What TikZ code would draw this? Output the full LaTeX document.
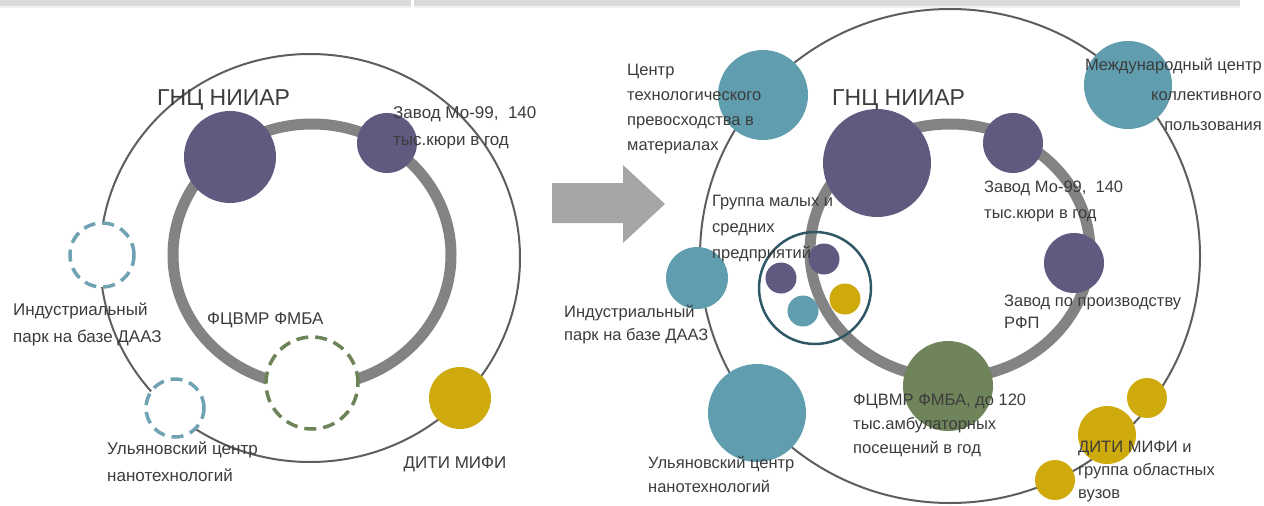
\documentclass[tikz,border=0pt]{standalone}
\usepackage{fontspec}
\setmainfont{Liberation Sans}

\definecolor{ballpurple}{HTML}{5F5A80}
\definecolor{ballteal}{HTML}{609DAE}
\definecolor{ballyellow}{HTML}{CFAA0C}
\definecolor{ballgreen}{HTML}{6F845A}
\definecolor{dashteal}{HTML}{6FA2B2}
\definecolor{dashgreen}{HTML}{6B8357}
\definecolor{groupline}{HTML}{2F5866}
\definecolor{orbitgray}{HTML}{5E5E5E}
\definecolor{ringgray}{HTML}{838383}
\definecolor{arrowgray}{HTML}{A6A6A6}
\definecolor{bargray}{HTML}{DADADA}
\definecolor{txtgray}{HTML}{3C3C3C}

\begin{document}
\begin{tikzpicture}[x=1pt, y=-1pt,
    ball/.style={circle, inner sep=0pt, minimum size=#1},
    purpleball/.style={ball=#1, fill=ballpurple},
    tealball/.style={ball=#1, fill=ballteal},
    yellowball/.style={ball=#1, fill=ballyellow},
    greenball/.style={ball=#1, fill=ballgreen},
    dashball/.style={ball=#1, fill=white, draw, line width=3.5pt, dash pattern=on 12pt off 7pt},
    orbit/.style={draw=orbitgray, line width=2pt},
    ring/.style={draw=ringgray, line width=11pt},
    lbl/.style={inner sep=0pt, anchor=base west, align=left, text=txtgray, font=\fontsize{17}{27}\selectfont},
    lblr/.style={lbl, font=\fontsize{16.5}{#1}\selectfont},
    lblr/.default=25,
    headlbl/.style={inner sep=0pt, anchor=base west, text=txtgray, font=\fontsize{23}{27}\selectfont}]
    \useasboundingbox (0,0) rectangle (1264,506);

    % strip along the top
    \fill[bargray] (0,0) rectangle (1240,5.5);
    \fill[black!6] (0,5.5) rectangle (1240,8);
    \fill[white] (411,0) rectangle (413.5,8);

    % left: today
    \draw[orbit] (310,258) ellipse [x radius=210pt, y radius=204pt];
    \draw[ring] (312,255) ellipse [x radius=139pt, y radius=131pt];
    \node[purpleball=92] (gnc) at (230,157) {};
    \node[purpleball=60] (mo) at (387,143) {};
    \node[dashball=64, draw=dashteal] (ip) at (102,255) {};
    \node[dashball=58, draw=dashteal] (unc) at (175,408) {};
    \node[dashball=92, draw=dashgreen] (fc) at (312,383) {};
    \node[yellowball=62] (diti) at (460,398) {};

    % labels: base = baseline of the last line
    \node[headlbl] (gnclbl) at (157,105) {ГНЦ НИИАР};
    \node[lbl] (molbl) at (393,145) {Завод Мо-99,\ \ 140\\тыс.кюри в год};
    \node[lbl] (fclbl) at (207,324) {ФЦВМР ФМБА};
    \node[lbl] (iplbl) at (13,342) {Индустриальный\\парк на базе ДААЗ};
    \node[lbl] (unclbl) at (107,481) {Ульяновский центр\\нанотехнологий};
    \node[lbl, anchor=base] (ditilbl) at (455,468) {ДИТИ МИФИ};

    % the step from one to the other
    \fill[arrowgray] (552,183) -- (623,183) -- (623,165) -- (665,204)
        -- (623,243) -- (623,223) -- (552,223) -- cycle;

    % right: plan
    \draw[orbit] (950,256) ellipse [x radius=250pt, y radius=247pt];
    \draw[ring] (950,251) ellipse [x radius=140pt, y radius=127pt];
    \node[purpleball=108] (gncr) at (877,163) {};
    \node[purpleball=60] (mor) at (1013,143) {};
    \node[purpleball=60] (rfp) at (1074,263) {};
    \node[greenball=90] (fcr) at (948,386) {};
    \node[tealball=90] (cto) at (763,95) {};
    \node[tealball=88] (mck) at (1128,85) {};
    \node[tealball=62] (ipr) at (697,278) {};
    \node[tealball=98] (uncr) at (757,413) {};
    \node[yellowball=40] (vuz1) at (1147,398) {};
    \node[yellowball=58] (vuz2) at (1107,435) {};
    \node[yellowball=40] (vuz3) at (1055,480) {};
    \node[ball=112, draw=groupline, line width=2.5pt] (grp) at (815,288) {};
    \node[purpleball=31] (grp1) at (781,278) {};
    \node[purpleball=31] (grp2) at (824,259) {};
    \node[tealball=31] (grp3) at (803,311) {};
    \node[yellowball=31] (grp4) at (845,299) {};

    \node[headlbl] (gncrlbl) at (832,105) {ГНЦ НИИАР};
    \node[lblr] (ctolbl) at (627,150) {Центр\\технологического\\превосходства в\\материалах};
    \node[lblr=30, anchor=base east, align=right] (mcklbl) at (1262,130) {Международный центр\\коллективного\\пользования};
    \node[lblr=26] (morlbl) at (984,218) {Завод Мо-99,\ \ 140\\тыс.кюри в год};
    \node[lblr=26] (grplbl) at (712,258) {Группа малых и\\средних\\предприятий};
    \node[lblr=22] (rfplbl) at (1004,328) {Завод по производству\\РФП};
    \node[lblr=24] (fcrlbl) at (853,453) {ФЦВМР ФМБА, до 120\\тыс.амбулаторных\\посещений в год};
    \node[lblr=23] (iprlbl) at (564,340) {Индустриальный\\парк на базе ДААЗ};
    \node[lblr=24] (uncrlbl) at (648,492) {Ульяновский центр\\нанотехнологий};
    \node[lblr=23] (vuzlbl) at (1078,498) {ДИТИ МИФИ и\\группа областных\\вузов};
\end{tikzpicture}
\end{document}
